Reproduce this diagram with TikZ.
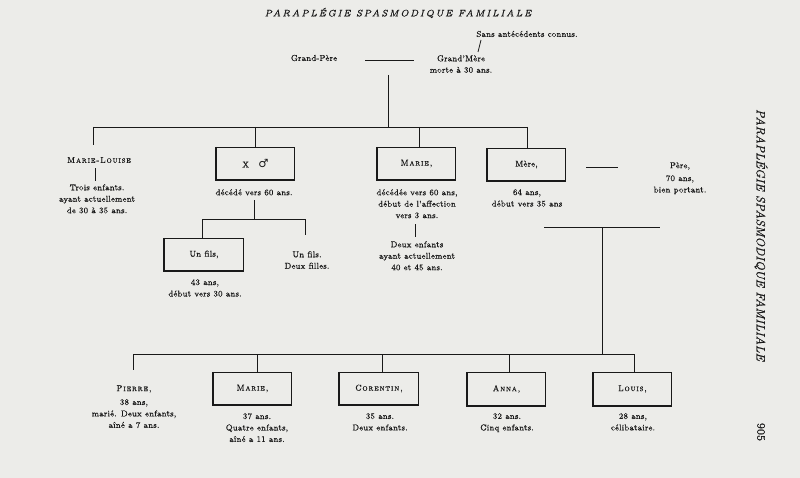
\documentclass[tikz,border=0pt]{standalone}
\usepackage{fontspec}
\setmainfont{Latin Modern Roman}[FakeBold=0.5, FakeStretch=0.88,
  SmallCapsFont={Latin Modern Roman Caps}, SmallCapsFeatures={FakeBold=0.5, FakeStretch=0.95}]
\newfontfamily\headfont{Latin Modern Roman}[FakeBold=0.6]
\newfontfamily\symfont{DejaVu Sans}
\definecolor{paper}{RGB}{236,236,233}
\definecolor{ink}{RGB}{25,25,25}
\begin{document}
\begin{tikzpicture}[x=0.75pt,y=-0.75pt,
  every node/.style={font=\fontsize{6.4}{8.6}\selectfont, text=ink, inner sep=0pt, align=center},
  ln/.style={draw=ink, line width=0.6pt},
  pbox/.style={draw=ink, line width=0.6pt, minimum width=59pt, minimum height=24.5pt},
  heavy/.style={draw=ink, line width=1.2pt},
  sc/.style={font=\fontsize{6.4}{8.6}\selectfont\scshape\addfontfeature{LetterSpace=10}}]
\fill[paper] (0,0) rectangle (800,478);
\useasboundingbox (0,0) rectangle (800,478);

% headers
\node (head) at (398,13) {\headfont\fontsize{7}{7}\selectfont\itshape\addfontfeature{LetterSpace=16}PARAPLÉGIE SPASMODIQUE FAMILIALE};
\node[rotate=-90] (side) at (761,235) {\headfont\fontsize{9}{10}\selectfont\itshape PARAPLÉGIE SPASMODIQUE FAMILIALE};
\node[rotate=-90] (page) at (761,432) {\headfont\fontsize{8.5}{9}\selectfont 905};

% grandparents
\node (sans) at (527,34) {Sans antécédents connus.};
\node (gp) at (314,58) {Grand-Père};
\node[anchor=north] (gm) at (461,55) {Grand'Mère\\morte à 30 ans.};
\coordinate (sa) at (481,40);
\coordinate (sb) at (478,52);
\draw[ln] (sa) -- (sb);
\coordinate (gpl) at (365,60);
\coordinate (gpr) at (414,60);
\draw[ln] (gpl) -- (gpr);
\coordinate (t0) at (388,75);
\coordinate (t1) at (388,127);
\draw[ln] (t0) -- (t1);

% generation 1
\coordinate (b1l) at (93,127);
\coordinate (b1r) at (528,127);
\draw[ln] (b1l) -- (b1r);

\node[sc] (ml) at (99,160) {Marie-Louise};
\node[anchor=north] (mlt) at (97,184) {Trois enfants.\\ayant actuellement\\de 30 à 35 ans.};
\coordinate (mla) at (93,145);
\draw[ln] (b1l) -- (mla);
\coordinate (mlb) at (95,168);
\coordinate (mlc) at (95,181);
\draw[ln] (mlb) -- (mlc);

\node[pbox] (bx) at (255.5,163.5) {X\hspace{1.1em}{\symfont\fontsize{8.5}{9}\selectfont ♂}};
\node[pbox,sc] (bm) at (416.5,163.5) {Marie,};
\node[pbox] (bme) at (526.5,164.5) {Mère,};
\coordinate (dx) at (255,127);
\coordinate (dm) at (419,127);
\coordinate (dme) at (527,127);
\draw[ln] (dx) -- (bx.north -| dx);
\draw[ln] (dm) -- (bm.north -| dm);
\draw[ln] (dme) -- (bme.north -| dme);

\node[anchor=north] (xt) at (254,189) {décédé vers 60 ans.};
\coordinate (xa) at (254,200);
\coordinate (xb) at (254,219);
\draw[ln] (xa) -- (xb);
\coordinate (b2l) at (202,219);
\coordinate (b2r) at (305,219);
\draw[ln] (b2l) -- (b2r);
\node[pbox] (bf) at (204,254.5) {Un fils,};
\draw[ln] (b2l) -- (bf.north -| b2l);
\coordinate (b2rd) at (305,235);
\draw[ln] (b2r) -- (b2rd);
\node[anchor=north] (uf) at (307,251) {Un fils.\\Deux filles.};
\node[anchor=north] (uft) at (205,279) {43 ans,\\début vers 30 ans.};

\node[anchor=north] (mt) at (417,189) {décédée vers 60 ans,\\début de l'affection\\vers 3 ans.};
\coordinate (ma) at (415,224);
\coordinate (mb) at (415,237);
\draw[ln] (ma) -- (mb);
\node[anchor=north] (mt2) at (417,241) {Deux enfants\\ayant actuellement\\40 et 45 ans.};

\node[anchor=north] (met) at (527,189) {64 ans,\\début vers 35 ans};
\coordinate (mpa) at (586,167);
\coordinate (mpb) at (618,167);
\draw[ln] (mpa) -- (mpb);
\node[anchor=north] (pere) at (680,162) {Père,\\[1pt]70 ans,\\bien portant.};

% generation 2
\coordinate (c0l) at (544,227);
\coordinate (c0r) at (660,227);
\draw[ln] (c0l) -- (c0r);
\coordinate (c0) at (602,227);
\coordinate (c1) at (602,354);
\draw[ln] (c0) -- (c1);
\coordinate (b3l) at (133,354);
\coordinate (b3r) at (634,354);
\draw[ln] (b3l) -- (b3r);

\node[sc] (pi) at (134,389) {Pierre,};
\coordinate (pia) at (133,370);
\draw[ln] (b3l) -- (pia);
\node[anchor=north] (pit) at (134,399) {38 ans,\\marié. Deux enfants,\\aîné a 7 ans.};

\node[pbox,sc] (c1b) at (252.5,388.5) {Marie,};
\node[pbox,sc] (c2b) at (379,388.5) {Corentin,};
\node[pbox,sc] (c3b) at (506.5,389) {Anna,};
\node[pbox,sc] (c4b) at (632.5,389) {Louis,};
\coordinate (d1) at (257,354);
\coordinate (d2) at (382,354);
\coordinate (d3) at (509,354);
\coordinate (d4) at (634,354);
\draw[ln] (d1) -- (c1b.north -| d1);
\draw[ln] (d2) -- (c2b.north -| d2);
\draw[ln] (d3) -- (c3b.north -| d3);
\draw[ln] (d4) -- (c4b.north -| d4);

\node[anchor=north] (c1t) at (257,413) {37 ans.\\Quatre enfants,\\aîné a 11 ans.};
\node[anchor=north] (c2t) at (380,413) {35 ans.\\Deux enfants.};
\node[anchor=north] (c3t) at (507,413) {32 ans.\\Cinq enfants.};
\node[anchor=north] (c4t) at (633,413) {28 ans,\\célibataire.};

% heavier left and bottom edges of the boxes
\foreach \n in {bx,bm,bme,bf,c1b,c2b,c3b,c4b}
  \draw[heavy] (\n.north west) -- (\n.south west) -- (\n.south east);
\end{tikzpicture}
\end{document}
